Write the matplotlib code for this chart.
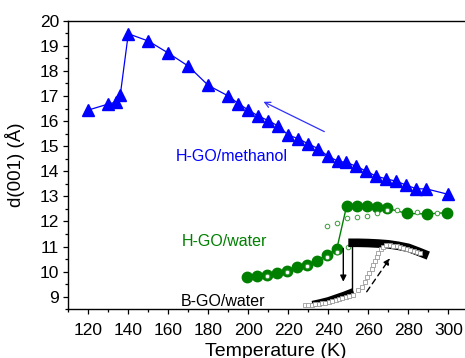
import numpy as np
import matplotlib.pyplot as plt

plt.rcParams['font.family'] = ['Liberation Sans', 'DejaVu Sans']

# H-GO/methanol (blue triangles)
meth_T = [120, 130, 134, 136, 140, 150, 160, 170, 180, 190, 195, 200, 205, 210, 215, 220,
          225, 230, 235, 240, 245, 249, 254, 259, 264, 269, 274, 279, 284, 289, 300]
meth_d = [16.44, 16.68, 16.76, 17.05, 19.48, 19.19, 18.71, 18.19, 17.42, 17.0, 16.7, 16.44,
          16.2, 16.02, 15.8, 15.44, 15.3, 15.09, 14.9, 14.59, 14.4, 14.35, 14.2, 14.0, 13.8,
          13.7, 13.6, 13.45, 13.3, 13.3, 13.08]

# H-GO/water, filled circles
hw_T = [199.2, 204.5, 209.5, 214.5, 219.5, 224.5, 229.2, 234.2, 239.2, 244.2,
        249.2, 254.2, 259.2, 264.2, 269.2, 279.2, 289.2, 299.2]
hw_d = [9.80, 9.84, 9.86, 9.96, 10.04, 10.17, 10.26, 10.43, 10.66, 10.89,
        12.63, 12.62, 12.62, 12.58, 12.53, 12.32, 12.3, 12.35]

# H-GO/water, open circles
hwo_T = [209.5, 219.5, 229.2, 239.2, 244.2, 249.6, 239.2, 244.2, 249.2, 254.2, 259.2,
         264.2, 269.2, 274.2, 284.2, 294.2]
hwo_d = [9.83, 10.0, 10.22, 10.58, 10.8, 10.97, 11.83, 11.95, 12.12, 12.16, 12.23,
         12.32, 12.45, 12.44, 12.39, 12.35]

# B-GO/water, filled (cooling): upper and lower branch
bw_up_T = [290, 285, 280, 275, 270, 265, 260, 255, 250]
bw_up_d = [10.64, 10.8, 10.95, 11.03, 11.09, 11.12, 11.14, 11.15, 11.15]
bw_lo_T = [252.5, 248, 244, 240, 236, 232]
bw_lo_d = [9.22, 9.08, 8.97, 8.86, 8.78, 8.71]

# B-GO/water, open squares (heating)
bo_T = [228.3, 230, 231.7, 233.4, 235.1, 236.8, 238.5, 240.2, 241.9, 243.6, 245.3, 247,
        248.7, 250.4, 252.5, 255, 256.7, 258.3, 259.5, 260.5, 261.7, 262.5, 263.3, 264.2,
        265, 266.2, 267.5, 269, 270.7, 272.4, 274.1, 275.8, 277.5, 279.2, 280.9, 282.6,
        284.3, 286]
bo_d = [8.66, 8.67, 8.68, 8.7, 8.72, 8.74, 8.77, 8.8, 8.83, 8.87, 8.91, 8.95,
        8.99, 9.03, 9.07, 9.27, 9.4, 9.6, 9.77, 9.93, 10.09, 10.26, 10.43, 10.59,
        10.75, 10.89, 10.99, 11.05, 11.05, 11.04, 11.02, 10.99, 10.96, 10.92, 10.88, 10.83,
        10.78, 10.73]

green = '#008000'

fig = plt.figure(figsize=(4.65, 3.58), dpi=100)
ax = fig.add_axes([0.1469, 0.136, 0.8602, 0.8062])

ax.plot(meth_T, meth_d, color='blue', lw=0.9, marker='^', ms=8.5, mec='blue', mfc='blue')

ax.plot(hw_T, hw_d, color=green, lw=1.0, marker='o', ms=7.5, mec=green, mfc=green)
ax.plot(hwo_T, hwo_d, ls='none', marker='o', ms=3.3, mec='#3a9a3a', mfc='white', mew=0.7)

ax.plot(bw_up_T, bw_up_d, color='black', lw=6.2, solid_capstyle='butt')
ax.plot(bw_lo_T, bw_lo_d, color='black', lw=4.6, solid_capstyle='butt')
ax.plot([251.6, 251.6], [bw_up_d[-1], bw_lo_d[0]], color='black', lw=1.0)
ax.plot(bo_T, bo_d, ls='none', marker='s', ms=2.8, mec='#9a9a9a', mfc='white', mew=0.6)

# arrows
ax.annotate('', xy=(207.6, 16.77), xytext=(238.0, 15.58),
            arrowprops=dict(arrowstyle='->', color='#3030ff', lw=0.9, shrinkA=0, shrinkB=0))
ax.annotate('', xy=(247.5, 9.6), xytext=(247.5, 10.93),
            arrowprops=dict(arrowstyle='-|>', color='black', lw=1.0, shrinkA=0, shrinkB=0,
                            mutation_scale=9))
ax.annotate('', xy=(270.8, 10.53), xytext=(259.2, 9.2),
            arrowprops=dict(arrowstyle='-|>', color='black', lw=1.0, ls=(0, (4, 3)),
                            shrinkA=0, shrinkB=0, mutation_scale=9))

ax.text(163.5, 14.58, 'H-GO/methanol', color='blue', fontsize=11.5, va='center', ha='left')
ax.text(166.5, 11.19, 'H-GO/water', color=green, fontsize=11.5, va='center', ha='left')
ax.text(166.0, 8.8, 'B-GO/water', color='black', fontsize=11.5, va='center', ha='left')

ax.set_xlim(110, 310)
ax.set_ylim(8.5, 20)
ax.set_xticks(np.arange(120, 301, 20))
ax.set_xticks(np.arange(110, 311, 10), minor=True)
ax.set_yticks(np.arange(9, 21, 1))
ax.set_yticks(np.arange(8.5, 20.01, 0.5), minor=True)
ax.tick_params(which='major', direction='out', length=3.5, width=0.9, labelsize=12.5, pad=3)
ax.tick_params(axis='x', which='major', pad=6)
ax.tick_params(which='minor', direction='out', length=2.2, width=0.9)
ax.tick_params(top=False, right=False, which='both')
for s in ax.spines.values():
    s.set_linewidth(1.0)
ax.spines['right'].set_visible(False)

ax.set_xlabel('Temperature (K)', fontsize=14)
ax.set_ylabel('d(001) (Å)', fontsize=13.5)
ax.xaxis.set_label_coords(0.518, -0.115)
ax.yaxis.set_label_coords(-0.108, 0.5)

plt.savefig('out.png', dpi=100)
